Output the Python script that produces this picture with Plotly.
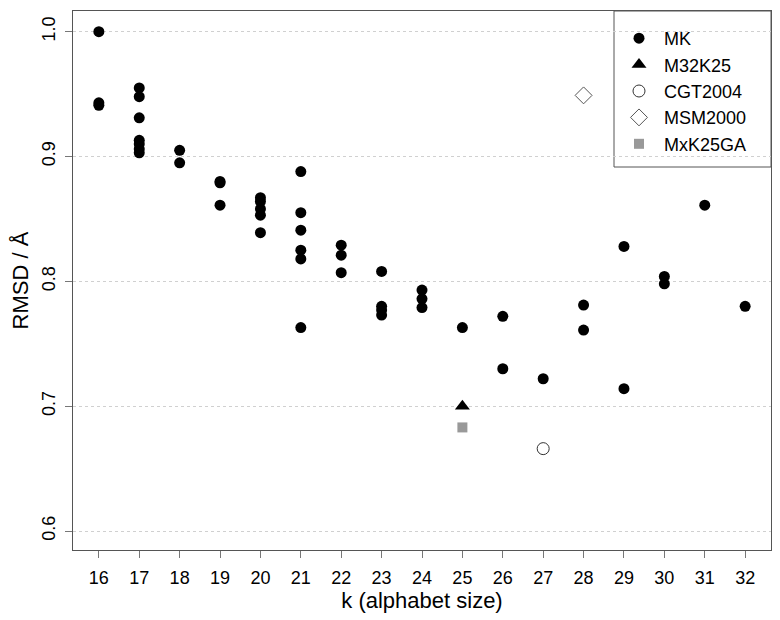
import plotly.graph_objects as go

# MK series
mk_k = [16, 16, 16,
        17, 17, 17, 17, 17, 17, 17,
        18, 18,
        19, 19, 19,
        20, 20, 20, 20, 20,
        21, 21, 21, 21, 21, 21,
        22, 22, 22,
        23, 23, 23, 23,
        24, 24, 24,
        25,
        26, 26,
        27,
        28, 28,
        29, 29,
        30, 30,
        31,
        32]
mk_rmsd = [1.000, 0.943, 0.941,
           0.955, 0.948, 0.931, 0.913, 0.910, 0.906, 0.903,
           0.905, 0.895,
           0.880, 0.879, 0.861,
           0.867, 0.864, 0.858, 0.853, 0.839,
           0.888, 0.855, 0.841, 0.825, 0.818, 0.763,
           0.829, 0.821, 0.807,
           0.808, 0.780, 0.777, 0.773,
           0.793, 0.786, 0.779,
           0.763,
           0.772, 0.730,
           0.722,
           0.781, 0.761,
           0.828, 0.714,
           0.804, 0.798,
           0.861,
           0.780]

m32k25_k = [25]
m32k25_rmsd = [0.700]
cgt2004_k = [27]
cgt2004_rmsd = [0.666]
msm2000_k = [28]
msm2000_rmsd = [0.949]
mxk25ga_k = [25]
mxk25ga_rmsd = [0.683]

x_ticks = list(range(16, 33))
y_ticks = [0.6, 0.7, 0.8, 0.9, 1.0]

FONT = "Liberation Sans, Arial, Helvetica, sans-serif"

fig = go.Figure()
fig.add_trace(go.Scatter(x=mk_k, y=mk_rmsd, mode="markers", name="MK",
                         marker=dict(symbol="circle", size=11, color="black")))
fig.add_trace(go.Scatter(x=m32k25_k, y=m32k25_rmsd, mode="markers", name="M32K25",
                         marker=dict(symbol="triangle-up", size=13, color="black")))
fig.add_trace(go.Scatter(x=cgt2004_k, y=cgt2004_rmsd, mode="markers", name="CGT2004",
                         marker=dict(symbol="circle-open", size=12, color="#333333",
                                     line=dict(width=1))))
fig.add_trace(go.Scatter(x=msm2000_k, y=msm2000_rmsd, mode="markers", name="MSM2000",
                         marker=dict(symbol="diamond-open", size=13, color="#555555",
                                     line=dict(width=1))))
fig.add_trace(go.Scatter(x=mxk25ga_k, y=mxk25ga_rmsd, mode="markers", name="MxK25GA",
                         marker=dict(symbol="square", size=10, color="#999999")))

# page body has an 8px margin; target plot area in window pixels: x 73..771, y 11..550
OFF = 8
W, H = 780 - OFF, 620 - OFF
L, R, T, B = 73 - OFF, 771 - OFF, 11 - OFF, 550 - OFF
PW, PH = R - L, B - T

def px_x(p):
    return (p - OFF - L) / PW

def px_y(p):
    return (B - (p - OFF)) / PH

fig.update_layout(
    width=W, height=H,
    margin=dict(l=L, r=W - R, t=T, b=H - B, pad=0),
    paper_bgcolor="white", plot_bgcolor="white",
    font=dict(family=FONT, size=18, color="black"),
    showlegend=True,
    legend=dict(x=px_x(614), xanchor="left", y=px_y(20), yanchor="top",
                borderwidth=0, bgcolor="rgba(0,0,0,0)",
                font=dict(size=18), itemwidth=40,
                tracegroupgap=0),
    shapes=[dict(type="rect", xref="paper", yref="paper",
                 x0=px_x(614), x1=1, y0=px_y(167), y1=1,
                 line=dict(color="#555555", width=1),
                 fillcolor="white", layer="below")],
)
fig.update_xaxes(
    range=[15.36, 32.64], tickmode="array", tickvals=x_ticks,
    ticktext=[str(v) for v in x_ticks], automargin=False,
    showgrid=False, zeroline=False,
    showline=True, linecolor="#555555", linewidth=1, mirror=True,
    ticks="outside", ticklen=7, tickcolor="#777777", ticklabelstandoff=4,
    title=dict(text="k (alphabet size)", font=dict(size=22), standoff=4),
)
fig.update_yaxes(
    range=[0.5848, 1.0166], tickmode="array", tickvals=y_ticks,
    ticktext=["%.1f" % v for v in y_ticks], tickangle=-90, automargin=False,
    showgrid=True, gridcolor="#d0d0d0", griddash="dot", gridwidth=1,
    zeroline=False,
    showline=True, linecolor="#555555", linewidth=1, mirror=True,
    ticks="outside", ticklen=7, tickcolor="#777777", ticklabelstandoff=3,
    title=dict(text="RMSD / Å", font=dict(size=22), standoff=5),
)

fig.write_html("out.html")
